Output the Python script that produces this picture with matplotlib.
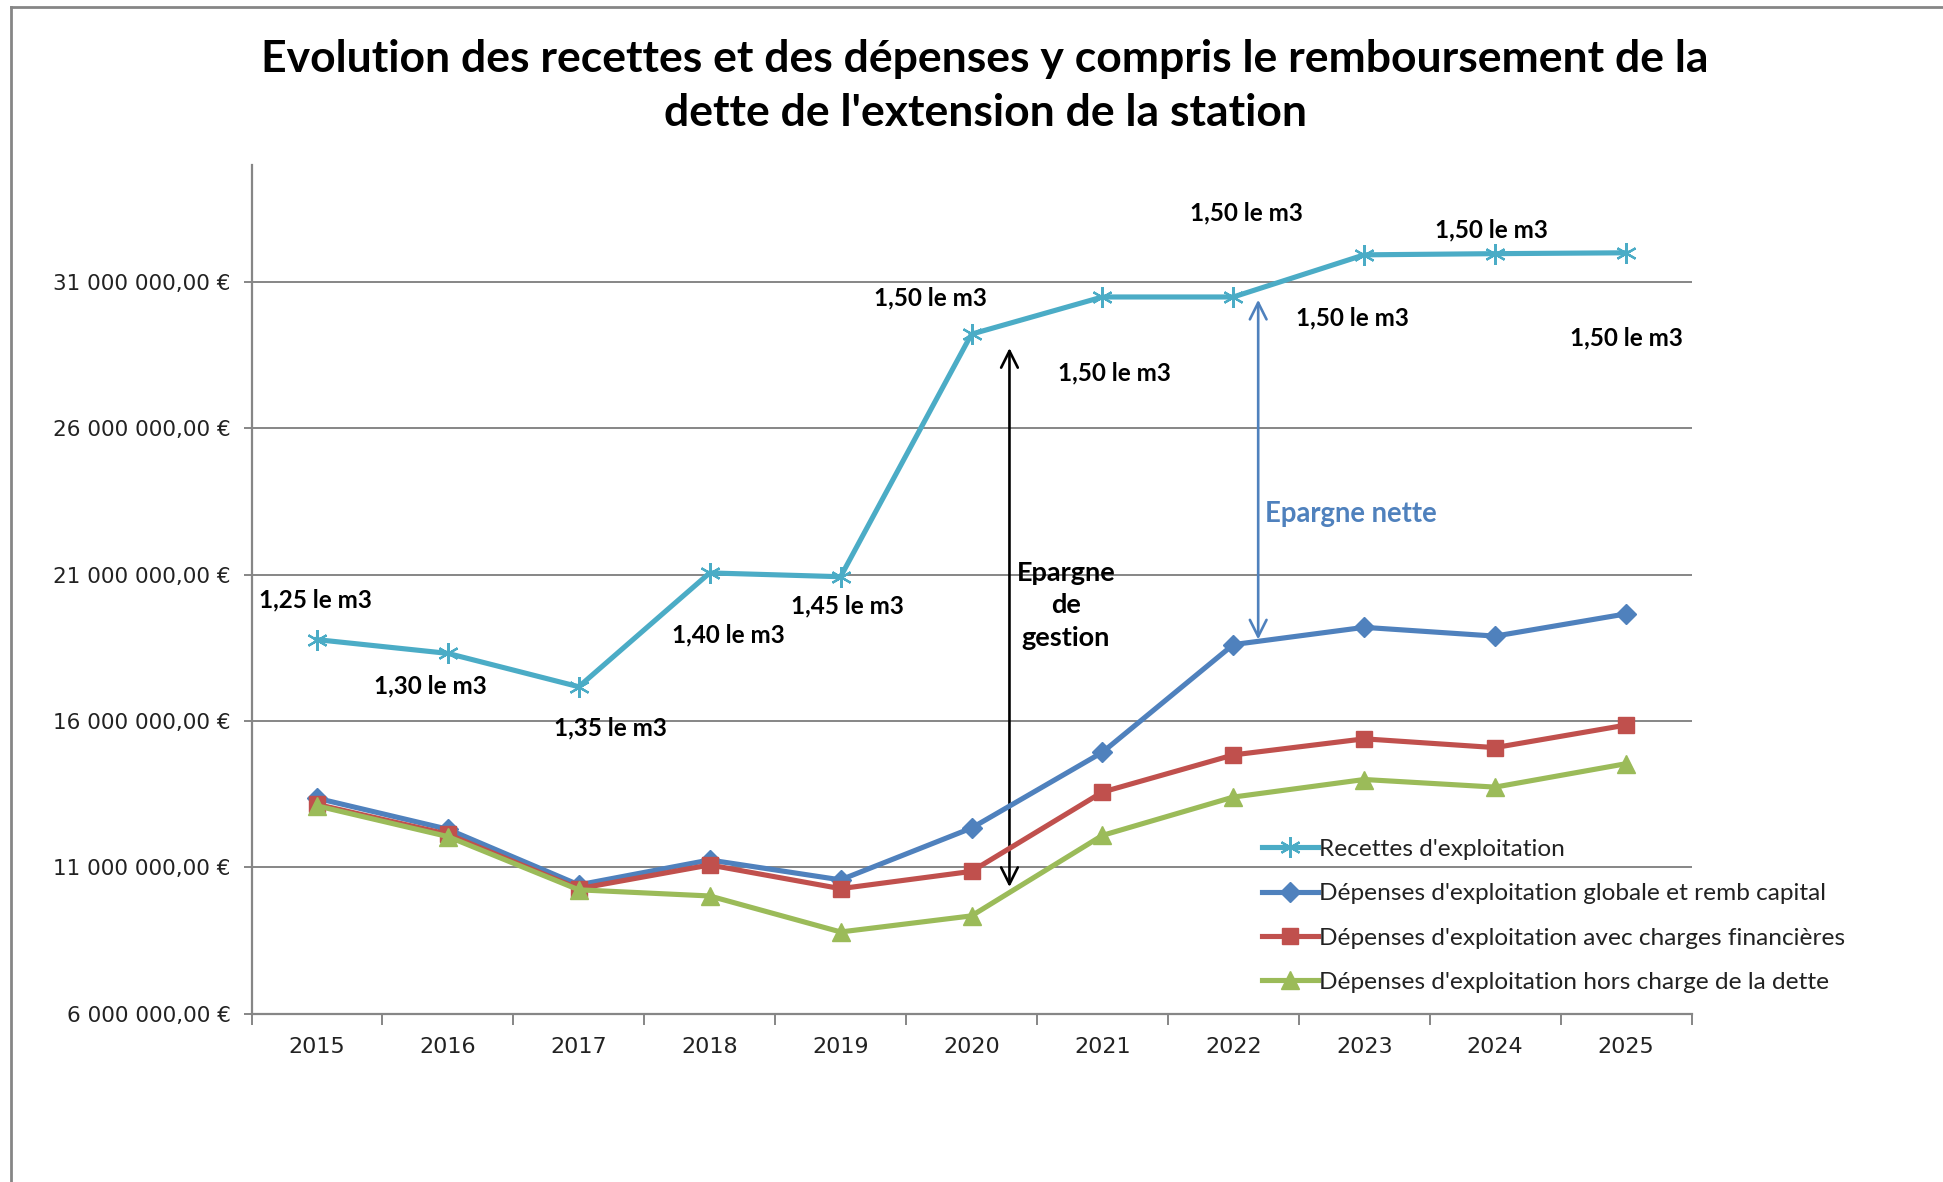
import matplotlib
matplotlib.use("Agg")
import matplotlib.pyplot as plt
from matplotlib.lines import Line2D
from matplotlib.ticker import FixedLocator, FuncFormatter, NullFormatter

# Data (millions of euros)
annees = ["2015", "2016", "2017", "2018", "2019", "2020", "2021", "2022", "2023", "2024", "2025"]
recettes = [18.78, 18.31, 17.17, 21.06, 20.93, 29.22, 30.49, 30.49, 31.93, 31.97, 32.00]
dep_globale = [13.36, 12.30, 10.40, 11.25, 10.57, 12.34, 14.93, 18.61, 19.20, 18.90, 19.66]
dep_financieres = [13.15, 12.13, 10.27, 11.08, 10.27, 10.86, 13.57, 14.84, 15.39, 15.09, 15.86]
dep_hors_dette = [13.10, 12.05, 10.23, 10.02, 8.79, 9.34, 12.09, 13.40, 14.00, 13.74, 14.54]
prix = ["1,25", "1,30", "1,35", "1,40", "1,45", "1,50", "1,50", "1,50", "1,50", "1,50", "1,50"]

# where the price labels sit (x in category units, y in millions)
prix_pos = [(-0.01, 20.13), (0.87, 17.21), (2.24, 15.77), (3.14, 18.94), (4.05, 19.92),
            (4.69, 30.45), (6.09, 27.91), (7.10, 33.37), (7.91, 29.77), (8.97, 32.78), (10.0, 29.10)]

y_ticks = [6, 11, 16, 21, 26, 31]

CYAN = "#4BACC6"
BLUE = "#4F81BD"
RED = "#C0504D"
GREEN = "#9BBB59"
GRID = "#868686"

W, H = 1943, 1182
fig = plt.figure(figsize=(W / 100, H / 100), dpi=100)
ax = fig.add_axes([251.5 / W, 1 - 1013.6 / H, (1691.5 - 251.5) / W, (1013.6 - 165) / H])

x = list(range(len(annees)))
M = 1e6

ax.plot(x, [v * M for v in recettes], color=CYAN, lw=3.7, marker=(6, 2, 0),
        ms=15, mec=CYAN, mew=1.6, label="Recettes d'exploitation", zorder=5)
ax.plot(x, [v * M for v in dep_globale], color=BLUE, lw=3.7, marker="D",
        ms=10, mec=BLUE, label="Dépenses d'exploitation globale et remb capital", zorder=4)
ax.plot(x, [v * M for v in dep_financieres], color=RED, lw=3.7, marker="s",
        ms=12, mec=RED, label="Dépenses d'exploitation avec charges financières", zorder=4)
ax.plot(x, [v * M for v in dep_hors_dette], color=GREEN, lw=3.7, marker="^",
        ms=13, mec=GREEN, label="Dépenses d'exploitation hors charge de la dette", zorder=4)

ax.set_xlim(-0.5, len(annees) - 0.5)
ax.set_ylim(6 * M, 35 * M)

# axes styling, excel-like
for s in ["top", "right"]:
    ax.spines[s].set_visible(False)
for s in ["left", "bottom"]:
    ax.spines[s].set_color(GRID)
    ax.spines[s].set_linewidth(1.6)

ax.yaxis.set_major_locator(FixedLocator([v * M for v in y_ticks]))
ax.yaxis.set_major_formatter(FuncFormatter(lambda v, p: f"{int(round(v)):,}".replace(",", " ") + ",00 €"))
ax.grid(axis="y", color=GRID, lw=1.4)
ax.set_axisbelow(True)
ax.tick_params(axis="y", length=6, width=1.4, color=GRID, pad=9, labelsize=15.5, labelcolor="#222222")

ax.set_xticks(x)
ax.set_xticklabels(annees)
ax.xaxis.set_minor_locator(FixedLocator([i + 0.5 for i in range(-1, len(annees))]))
ax.xaxis.set_minor_formatter(NullFormatter())
ax.tick_params(axis="x", which="major", length=0, pad=17, labelsize=16, labelcolor="#222222")
ax.tick_params(axis="x", which="minor", length=8, width=1.4, color=GRID)

# price labels
for txt, (px, py) in zip(prix, prix_pos):
    ax.text(px, py * M, f"{txt} le m3", ha="center", va="center", fontsize=17.5,
            fontweight="bold", family="Lato", color="black")

# Epargne de gestion arrow (2020)
ax.annotate("", xy=(5.29, 10.23 * M), xytext=(5.29, 28.84 * M),
            arrowprops=dict(arrowstyle="<->", color="black", lw=1.9, mutation_scale=30))
ax.text(5.72, 19.96 * M, "Epargne\nde\ngestion", ha="center", va="center", fontsize=19.5,
        fontweight="bold", family="Lato", linespacing=1.42)

# Epargne nette arrow (2022)
ax.annotate("", xy=(7.19, 18.69 * M), xytext=(7.19, 30.49 * M),
            arrowprops=dict(arrowstyle="<->", color=BLUE, lw=1.9, mutation_scale=30))
ax.text(7.24, 23.09 * M, "Epargne nette", ha="left", va="center", fontsize=19.8,
        fontweight="bold", family="Lato", color=BLUE)

# legend
leg = fig.legend(loc="upper left", bbox_to_anchor=(1252 / W, 1 - 829 / H), frameon=False,
                 prop={"family": "Lato", "size": 17.6}, handlelength=2.3, handletextpad=0.05,
                 labelspacing=0.95, borderaxespad=0)
for t in leg.get_texts():
    t.set_color("#222222")

# title
fig.text(985 / W, 1 - 86 / H, "Evolution des recettes et des dépenses y compris le remboursement de la\n"
         "dette de l'extension de la station", ha="center", va="center", fontsize=32,
         fontweight="bold", family="Lato", linespacing=1.45)

# chart area frame (cut off on right and bottom)
fig.add_artist(Line2D([11 / W, 1], [1 - 7 / H, 1 - 7 / H], transform=fig.transFigure, color=GRID, lw=2))
fig.add_artist(Line2D([11 / W, 11 / W], [0, 1 - 7 / H], transform=fig.transFigure, color=GRID, lw=2))

fig.savefig("out.png", dpi=100)
